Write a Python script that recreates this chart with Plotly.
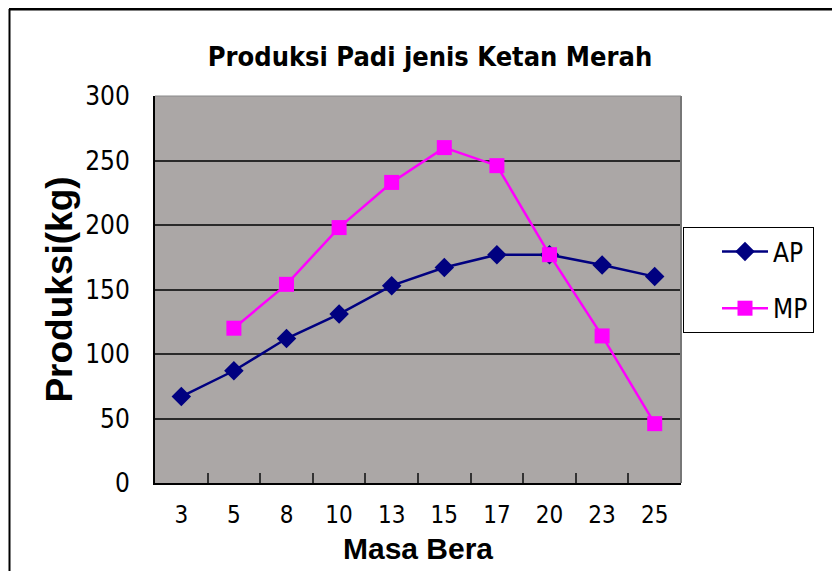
import plotly.graph_objects as go

categories = ["3", "5", "8", "10", "13", "15", "17", "20", "23", "25"]
ap_values = [67, 87, 112, 131, 153, 167, 177, 177, 169, 160]
mp_values = [None, 120, 154, 198, 233, 260, 246, 177, 114, 46]
y_ticks = [0, 50, 100, 150, 200, 250, 300]

OFF = 8  # browser body margin
L, R, T, B = 155 - OFF, 681 - OFF, 96 - OFF, 483 - OFF
W, H = 840 - OFF, 571 - OFF
pw, ph = R - L, B - T

narrow = "DejaVu Sans Condensed, Liberation Sans Narrow, Arial Narrow, Liberation Sans, sans-serif"
bold = "Liberation Sans, Arial, sans-serif"

fig = go.Figure()
fig.add_trace(go.Scatter(
    x=categories, y=ap_values, name="AP", mode="lines+markers",
    line=dict(color="#000080", width=2.5),
    marker=dict(symbol="diamond", size=15, color="#000080"),
    legendgroup="a",
))
fig.add_trace(go.Scatter(
    x=categories, y=mp_values, name="MP", mode="lines+markers",
    line=dict(color="#FF00FF", width=2.5),
    marker=dict(symbol="square", size=15, color="#FF00FF"),
    legendgroup="b", connectgaps=False,
))

fig.update_layout(
    width=W, height=H,
    margin=dict(l=L, r=W - R, t=T, b=H - B, pad=0, autoexpand=False),
    paper_bgcolor="white",
    plot_bgcolor="#ABA7A6",
    title=dict(text="Produksi Padi jenis Ketan Merah", x=(430 - OFF) / W, xanchor="center",
               y=1 - (57 - OFF) / H, yanchor="middle",
               font=dict(family=narrow, size=27, color="black", weight="bold")),
    showlegend=True,
    legend=dict(x=(683 - 155) / pw, xanchor="left", y=(483 - 227) / ph, yanchor="top",
                bgcolor="white", bordercolor="black", borderwidth=1,
                font=dict(family=narrow, size=26, color="black"),
                tracegroupgap=20, entrywidth=140, itemwidth=46, indentation=33),
    xaxis=dict(type="category", range=[-0.5, 9.5], tickson="boundaries", automargin=False,
               ticks="inside", ticklen=10, tickwidth=2, tickcolor="#333",
               showline=True, linecolor="black", linewidth=2, mirror=False,
               showgrid=False, tickfont=dict(family=narrow, size=24, color="black"),
               ticklabelstandoff=9,
               title=dict(text="Masa Bera", standoff=10,
                          font=dict(family=bold, size=30, color="black", weight="bold"))),
    yaxis=dict(range=[0, 300], tickvals=y_ticks, ticks="outside", ticklen=0, automargin=False,
               showline=True, linecolor="black", linewidth=2,
               showgrid=True, gridcolor="#2a2a2a", gridwidth=2,
               zeroline=False,
               tickfont=dict(family=narrow, size=26, color="black"),
               ticklabelstandoff=18,
               title=dict(text="Produksi(kg)", standoff=1,
                          font=dict(family=bold, size=37, color="black", weight="bold"))),
)

# right / top edge of plot area
fig.add_shape(type="line", xref="paper", yref="paper", x0=1, x1=1, y0=0, y1=1,
              line=dict(color="#777777", width=2))
fig.add_shape(type="line", xref="paper", yref="paper", x0=0, x1=1, y0=1, y1=1,
              line=dict(color="#8a8a8a", width=1))
# outer frame
fig.add_shape(type="line", xref="paper", yref="paper",
              x0=(9 - 155) / pw, x1=(860 - 155) / pw, y0=(483 - 9) / ph, y1=(483 - 9) / ph,
              line=dict(color="black", width=3))
fig.add_shape(type="line", xref="paper", yref="paper",
              x0=(9.5 - 155) / pw, x1=(9.5 - 155) / pw, y0=(483 - 9) / ph, y1=(483 - 600) / ph,
              line=dict(color="black", width=2))

fig.write_html("out.html")
